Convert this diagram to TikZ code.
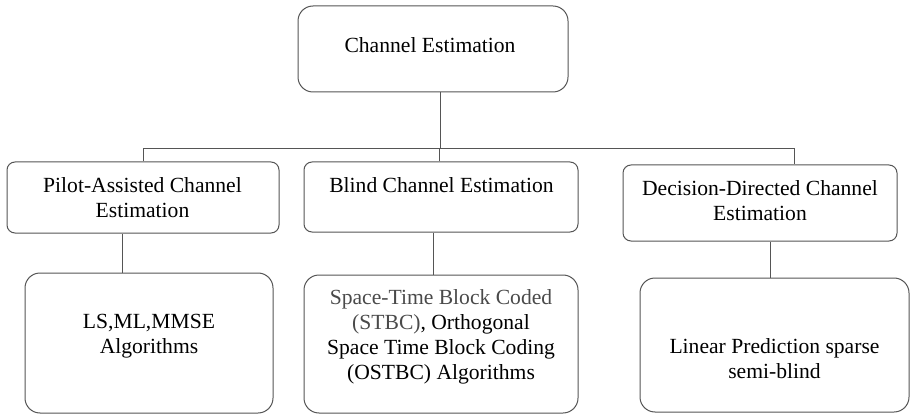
\documentclass[tikz,border=0pt]{standalone}
\usepackage{fontspec}
\setmainfont{LiberationSerif}[Extension=.ttf, UprightFont=*-Regular, BoldFont=*-Bold]
\definecolor{edge}{HTML}{555555}
\definecolor{soft}{HTML}{4A4A4A}
\tikzset{
  box/.style={draw=edge, line width=1pt, rectangle, inner sep=0pt},
  smallbox/.style={box, rounded corners=8pt},
  bigbox/.style={box, rounded corners=15pt},
  label/.style={align=center, inner sep=0pt, font=\rmfamily\fontsize{21.6}{25}\selectfont},
  link/.style={draw=edge, line width=1pt}
}
\begin{document}
\begin{tikzpicture}[x=1pt, y=-1pt]
  \useasboundingbox (0,0) rectangle (910,414);

  % boxes
  \node[bigbox, minimum width=270pt, minimum height=86pt] (top) at (433,49) {};
  \node[smallbox, minimum width=272pt, minimum height=71pt] (pilot) at (143,197.5) {};
  \node[smallbox, minimum width=274pt, minimum height=70pt] (blind) at (441,197) {};
  \node[smallbox, minimum width=274pt, minimum height=76pt] (decision) at (760,203) {};
  \node[bigbox, minimum width=248pt, minimum height=140pt] (ls) at (149,343) {};
  \node[bigbox, minimum width=274pt, minimum height=138pt] (stbc) at (441,344) {};
  \node[bigbox, minimum width=269pt, minimum height=134pt] (linear) at (774.5,345) {};

  % texts
  \node[label] (ttop) at (430,45) {Channel Estimation};
  \node[label] (tpilot) at (142.5,197.5) {Pilot-Assisted Channel\\Estimation};
  \node[label] (tblind) at (441.5,185) {Blind Channel Estimation};
  \node[label] (tdecision) at (760,200.5) {Decision-Directed Channel\\Estimation};
  \node[label] (tls) at (149,336.5) {LS,ML,MMSE\\Algorithms};
  \node[label] (tstbc) at (441,337) {\textcolor{soft}{Space-Time Block Coded}\\\textcolor{soft}{(STBC)}, Orthogonal\\Space Time Block Coding\\(OSTBC) Algorithms};
  \node[label] (tlinear) at (774.5,358.5) {Linear Prediction sparse\\semi-blind};

  % connectors
  \coordinate (bus) at (0,149);
  \coordinate (dtop) at ([xshift=34pt]decision.north);
  \draw[link] ([xshift=7pt]top.south) -- ([xshift=7pt]top.south |- bus);
  \draw[link] (pilot.north) |- (bus -| dtop) -- (dtop);
  \draw[link] ([xshift=-2pt]blind.north) -- ([xshift=-2pt]blind.north |- bus);
  \draw[link] ([xshift=-21pt]pilot.south) -- ([xshift=-21pt]pilot.south |- ls.north);
  \draw[link] ([xshift=-8pt]blind.south) -- ([xshift=-8pt]blind.south |- stbc.north);
  \draw[link] ([xshift=10pt]decision.south) -- ([xshift=10pt]decision.south |- linear.north);
\end{tikzpicture}
\end{document}
